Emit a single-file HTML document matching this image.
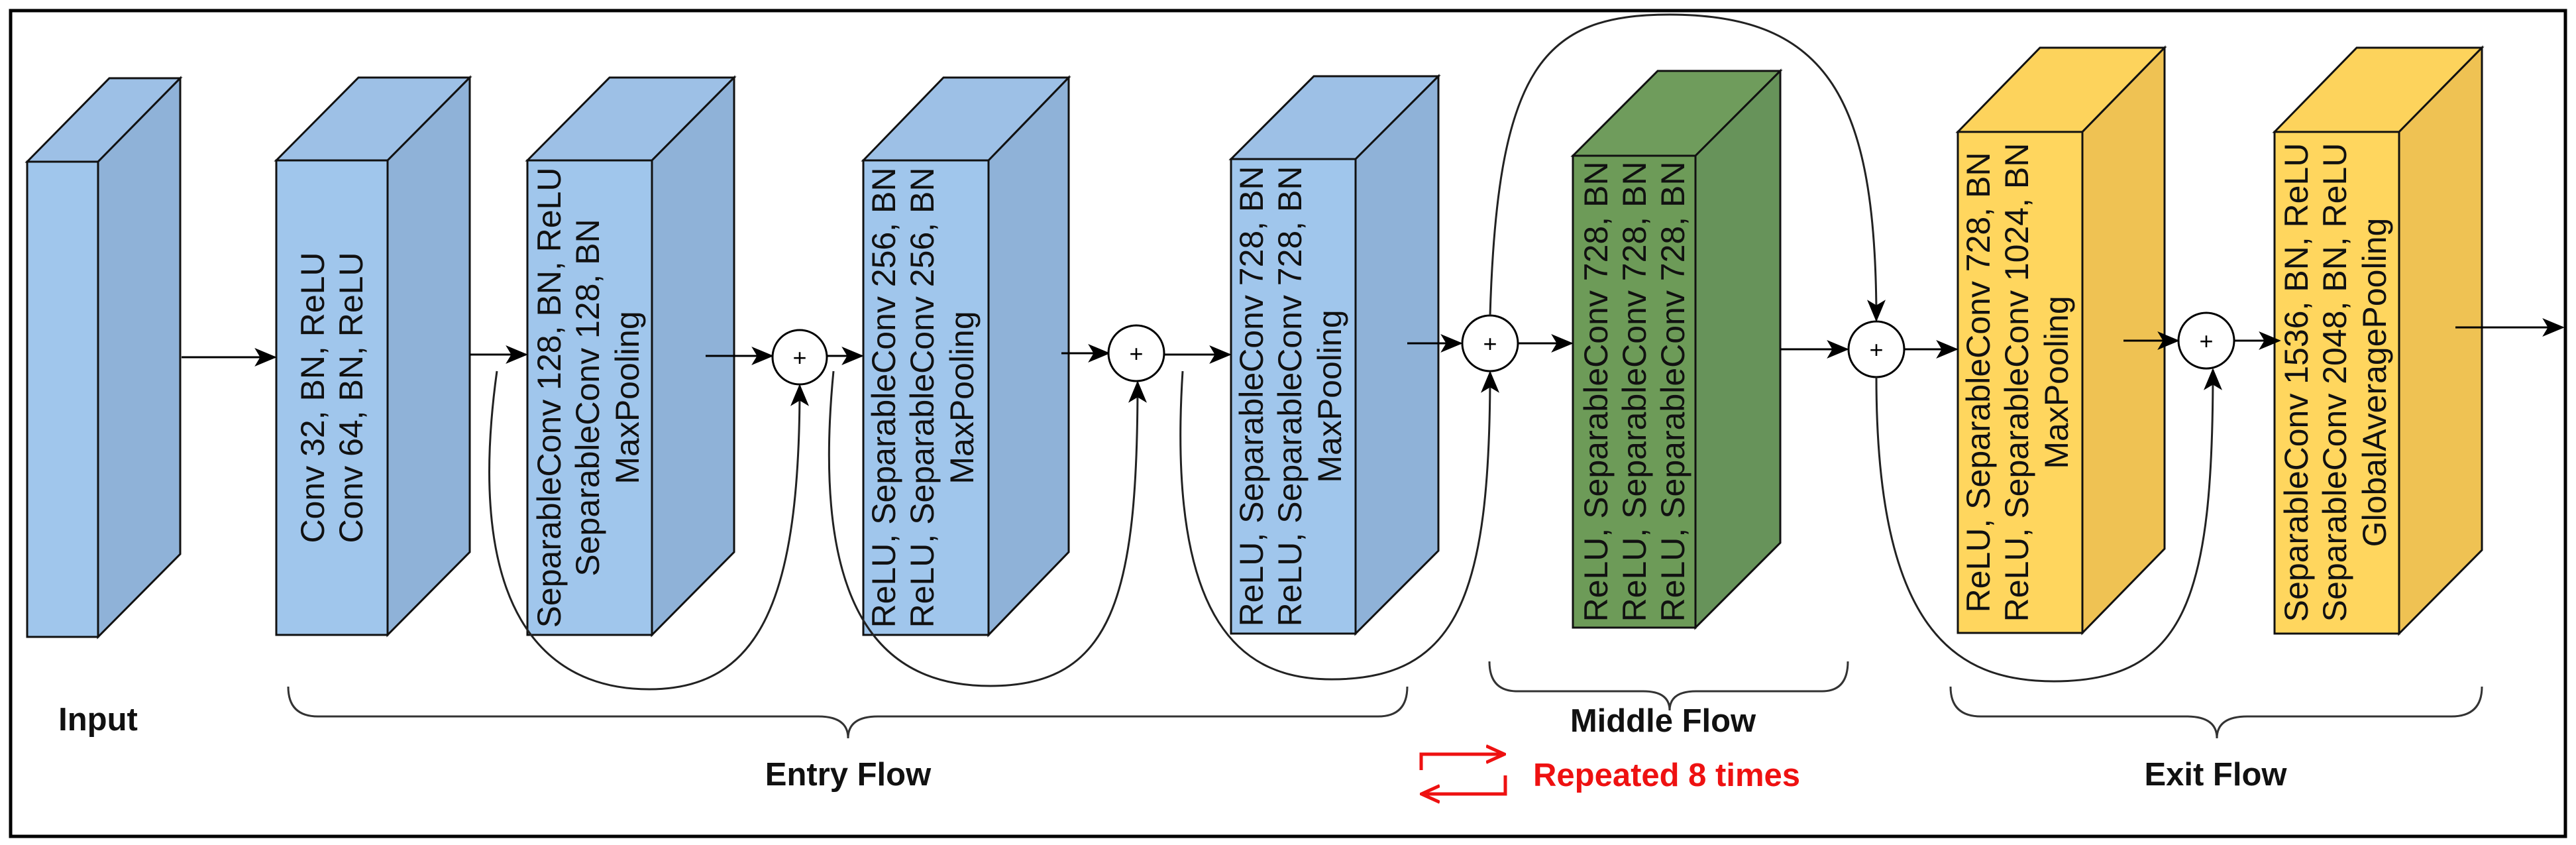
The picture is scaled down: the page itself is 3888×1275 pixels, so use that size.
<!DOCTYPE html>
<html><head><meta charset="utf-8"><style>
html,body{margin:0;padding:0;background:#fff;}
svg{display:block;}
text{font-family:"Liberation Sans",Arial,sans-serif;}
.bt{font-size:50px;fill:#111;text-anchor:middle;}
.lb{font-size:49px;font-weight:bold;fill:#111;text-anchor:middle;}
</style></head><body>
<svg width="3888" height="1275" viewBox="0 0 3888 1275" xmlns="http://www.w3.org/2000/svg">
<defs>
<marker id="a" viewBox="0 0 12 10" refX="11" refY="5" markerWidth="34" markerHeight="28" markerUnits="userSpaceOnUse" orient="auto"><path d="M0,0 L12,5 L0,10 L3,5 Z" fill="#000"/></marker>
<marker id="r" viewBox="0 0 12 10" refX="10" refY="5" markerWidth="30" markerHeight="44" markerUnits="userSpaceOnUse" orient="auto"><path d="M0,0 L11,5 L0,10" fill="none" stroke="#ee1111" stroke-width="2"/></marker>
</defs>
<rect x="16" y="16" width="3856" height="1246" fill="#fff" stroke="#000" stroke-width="5"/>

<g stroke="#111" stroke-width="3" stroke-linejoin="miter">
<polygon points="41,244 165,118 272,118 148,244" fill="#9dc0e6"/>
<polygon points="148,244 272,118 272,836 148,961" fill="#8fb2d8"/>
<rect x="41" y="244" width="107" height="717" fill="#a0c6ec"/>
<polygon points="417,242 541,117 709,117 585,242" fill="#9dc0e6"/>
<polygon points="585,242 709,117 709,833 585,958" fill="#8fb2d8"/>
<rect x="417" y="242" width="168" height="716" fill="#a0c6ec"/>
<polygon points="796,242 920,117 1108,117 984,242" fill="#9dc0e6"/>
<polygon points="984,242 1108,117 1108,833 984,958" fill="#8fb2d8"/>
<rect x="796" y="242" width="188" height="716" fill="#a0c6ec"/>
<polygon points="1303,242 1424,117 1613,117 1492,242" fill="#9dc0e6"/>
<polygon points="1492,242 1613,117 1613,833 1492,958" fill="#8fb2d8"/>
<rect x="1303" y="242" width="189" height="716" fill="#a0c6ec"/>
<polygon points="1858,240 1983,115 2171,115 2046,240" fill="#9dc0e6"/>
<polygon points="2046,240 2171,115 2171,831 2046,956" fill="#8fb2d8"/>
<rect x="1858" y="240" width="188" height="716" fill="#a0c6ec"/>
<polygon points="2374,235 2502,107 2687,107 2559,235" fill="#6f9c5c"/>
<polygon points="2559,235 2687,107 2687,819 2559,947" fill="#67935a"/>
<rect x="2374" y="235" width="185" height="712" fill="#6d9b58"/>
<polygon points="2955,199 3079,72 3267,72 3143,199" fill="#fdd35c"/>
<polygon points="3143,199 3267,72 3267,828 3143,955" fill="#efc253"/>
<rect x="2955" y="199" width="188" height="756" fill="#ffd65e"/>
<polygon points="3433,199 3557,72 3746,72 3621,199" fill="#fdd35c"/>
<polygon points="3621,199 3746,72 3746,830 3621,956" fill="#efc253"/>
<rect x="3433" y="199" width="188" height="757" fill="#ffd65e"/>
</g>

<g transform="translate(501,600) rotate(-90)"><text class="bt" x="0" y="-12">Conv 32, BN, ReLU</text><text class="bt" x="0" y="46">Conv 64, BN, ReLU</text></g>
<g transform="translate(890,600) rotate(-90)"><text class="bt" x="0" y="-44">SeparableConv 128, BN, ReLU</text><text class="bt" x="0" y="14">SeparableConv 128, BN</text><text class="bt" x="0" y="74">MaxPooling</text></g>
<g transform="translate(1397,600) rotate(-90)"><text class="bt" x="0" y="-46">ReLU, SeparableConv 256, BN</text><text class="bt" x="0" y="12">ReLU, SeparableConv 256, BN</text><text class="bt" x="0" y="72">MaxPooling</text></g>
<g transform="translate(1952,598) rotate(-90)"><text class="bt" x="0" y="-46">ReLU, SeparableConv 728, BN</text><text class="bt" x="0" y="12">ReLU, SeparableConv 728, BN</text><text class="bt" x="0" y="72">MaxPooling</text></g>
<g transform="translate(2466,591) rotate(-90)"><text class="bt" x="0" y="-40">ReLU, SeparableConv 728, BN</text><text class="bt" x="0" y="18">ReLU, SeparableConv 728, BN</text><text class="bt" x="0" y="76">ReLU, SeparableConv 728, BN</text></g>
<g transform="translate(3049,577) rotate(-90)"><text class="bt" x="0" y="-46">ReLU, SeparableConv 728, BN</text><text class="bt" x="0" y="12">ReLU, SeparableConv 1024, BN</text><text class="bt" x="0" y="72">MaxPooling</text></g>
<g transform="translate(3527,577) rotate(-90)"><text class="bt" x="0" y="-44">SeparableConv 1536, BN, ReLU</text><text class="bt" x="0" y="14">SeparableConv 2048, BN, ReLU</text><text class="bt" x="0" y="74">GlobalAveragePooling</text></g>

<g stroke="#000" stroke-width="3" fill="none" marker-end="url(#a)">
<line x1="274" y1="539" x2="415" y2="539"/>
<line x1="709" y1="535" x2="794" y2="535"/>
<line x1="1065" y1="537" x2="1165" y2="537"/>
<line x1="1248" y1="537" x2="1301" y2="537"/>
<line x1="1602" y1="533" x2="1673" y2="533"/>
<line x1="1758" y1="535" x2="1856" y2="535"/>
<line x1="2124" y1="518" x2="2205" y2="518"/>
<line x1="2291" y1="518" x2="2372" y2="518"/>
<line x1="2687" y1="527" x2="2788" y2="527"/>
<line x1="2874" y1="527" x2="2953" y2="527"/>
<line x1="3205" y1="514" x2="3287" y2="514"/>
<line x1="3372" y1="514" x2="3440" y2="514"/>
<line x1="3706" y1="494" x2="3868" y2="494"/>
</g>
<g stroke="#000" stroke-width="3" fill="#fff">
<circle cx="1207" cy="539" r="41"/>
<circle cx="1715" cy="533" r="42"/>
<circle cx="2249" cy="518" r="42"/>
<circle cx="2832" cy="527" r="42"/>
<circle cx="3330" cy="514" r="42"/>
</g>
<g font-family="Liberation Sans" font-size="36" text-anchor="middle" fill="#000">
<text x="1207" y="552">+</text><text x="1715" y="546">+</text><text x="2249" y="531">+</text><text x="2832" y="540">+</text><text x="3330" y="527">+</text>
</g>
<g stroke="#222" stroke-width="3" fill="none" marker-end="url(#a)">
<path d="M750,560 C700,920 820,1040 980,1040 C1150,1040 1207,900 1207,582"/>
<path d="M1258,560 C1220,950 1350,1035 1495,1035 C1680,1035 1717,900 1717,577"/>
<path d="M1785,560 C1760,950 1880,1025 2010,1025 C2200,1025 2249,900 2249,562"/>
<path d="M2249,476 C2260,100 2330,22 2520,22 C2760,22 2832,150 2832,483"/>
<path d="M2832,569 C2832,950 2950,1028 3100,1028 C3300,1028 3340,900 3340,558"/>
</g>
<g stroke="#333" stroke-width="3" fill="none">
<path d="M435,1036 Q435,1081 480,1081 L1235,1081 Q1280,1081 1280,1114 Q1280,1081 1325,1081 L2080,1081 Q2124,1081 2124,1036"/>
<path d="M2248,998 Q2248,1043 2290,1043 L2480,1043 Q2520,1043 2520,1072 Q2520,1043 2560,1043 L2750,1043 Q2789,1043 2789,998"/>
<path d="M2944,1036 Q2944,1081 2990,1081 L3300,1081 Q3346,1081 3346,1114 Q3346,1081 3392,1081 L3700,1081 Q3746,1081 3746,1036"/>
</g>
<text class="lb" x="148" y="1102">Input</text>
<text class="lb" x="1280" y="1185">Entry Flow</text>
<text class="lb" x="2510" y="1104">Middle Flow</text>
<text class="lb" x="3344" y="1185">Exit Flow</text>
<text x="2314" y="1186" font-size="49" font-weight="bold" fill="#ee1111">Repeated 8 times</text>
<g stroke="#ee1111" stroke-width="5" fill="none">
<path d="M2145,1162 L2145,1138 L2268,1138" marker-end="url(#r)"/>
<path d="M2272,1170 L2272,1198 L2148,1198" marker-end="url(#r)"/>
</g>
</svg>
</body></html>
